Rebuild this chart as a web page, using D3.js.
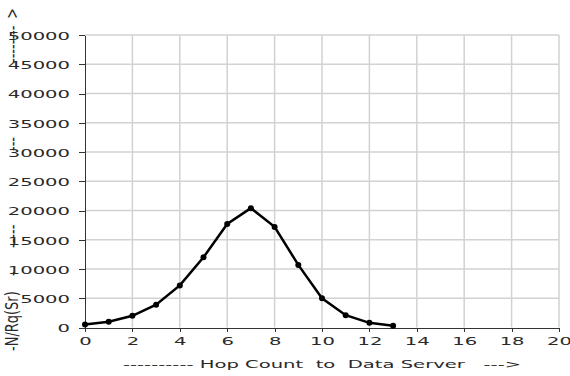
<!DOCTYPE html>
<html>
<head>
    <meta charset="UTF-8">
    <title>hop count</title>
    <style type="text/css">
        body { margin: 0; background: #fff; }
        text { font-family: "DejaVu Sans", sans-serif; font-size: 11px; fill: #2a2a2a; }
        .grid line { stroke: #d2d2d2; stroke-width: 1.5px; }
        .axis path, .axis line { stroke: #333; stroke-width: 1px; shape-rendering: crispEdges; }
        .line { fill: none; stroke: #000; stroke-width: 2.5px; }
        .dot { fill: #000; }
    </style>
</head>
<body>
<script src="https://cdn.jsdelivr.net/npm/d3@7"></script>
<script type="text/javascript">
    // data
    var hops = [0, 1, 2, 3, 4, 5, 6, 7, 8, 9, 10, 11, 12, 13];
    var counts = [500, 1000, 2000, 3900, 7200, 12000, 17700, 20400, 17200, 10700, 5000, 2100, 800, 300];
    var xTicks = [0, 2, 4, 6, 8, 10, 12, 14, 16, 18, 20];
    var yTicks = [0, 5000, 10000, 15000, 20000, 25000, 30000, 35000, 40000, 45000, 50000];
    var xTitle = "---------- Hop Count  to  Data Server   --->";
    var yTitleParts = [
        {at: 0, text: "-N/Rq(Sr)"},
        {at: 75, text: "-"},
        {at: 103, text: "-----"},
        {at: 200, text: "---"},
        {at: 288, text: "--------"},
        {at: 332, text: ">"}
    ];

    var width = 570,
        height = 376,
        stretch = 1.78,
        plotLeft = 85, plotRight = 559, plotTop = 35, plotBottom = 327.5;

    var x = d3.scaleLinear().domain([0, 20]).range([plotLeft, plotRight]),
        y = d3.scaleLinear().domain([0, 50000]).range([plotBottom, plotTop]);

    var data = hops.map(function(h, i){ return {x: h, y: counts[i]}; });

    var svg = d3.select("body").append("svg")
        .attr("width", width)
        .attr("height", height);

    // grid
    var grid = svg.append("g").attr("class", "grid");
    grid.selectAll("line.v").data(xTicks.slice(1))
        .enter().append("line").attr("class", "v")
        .attr("x1", function(d){ return x(d); }).attr("x2", function(d){ return x(d); })
        .attr("y1", plotTop).attr("y2", plotBottom);
    grid.selectAll("line.h").data(yTicks.slice(1))
        .enter().append("line").attr("class", "h")
        .attr("x1", plotLeft).attr("x2", plotRight)
        .attr("y1", function(d){ return y(d); }).attr("y2", function(d){ return y(d); });

    // axes
    var xAxis = d3.axisBottom(x).tickValues(xTicks).tickSize(4).tickSizeOuter(0).tickPadding(6);
    var yAxis = d3.axisLeft(y).tickValues(yTicks).tickSize(6).tickSizeOuter(0).tickFormat(d3.format("d"));

    var gx = svg.append("g").attr("class", "axis")
        .attr("transform", "translate(0," + plotBottom + ")")
        .call(xAxis);
    var gy = svg.append("g").attr("class", "axis")
        .attr("transform", "translate(" + plotLeft + ",0)")
        .call(yAxis);

    gx.selectAll("text").attr("transform", "scale(" + stretch + ",1)");
    gy.selectAll("text")
        .attr("x", -15 / stretch)
        .attr("dy", "0.4em")
        .attr("transform", "scale(" + stretch + ",1)");
    svg.selectAll(".axis text").attr("fill", "#2a2a2a").style("font-size", "11px")
        .style("font-family", "'DejaVu Sans', sans-serif");

    // line + dots
    var line = d3.line()
        .x(function(d){ return x(d.x); })
        .y(function(d){ return y(d.y); });

    svg.append("path").datum(data)
        .attr("class", "line")
        .attr("d", line);

    svg.append("g").selectAll("circle")
        .data(data)
      .enter().append("circle")
        .attr("class", "dot")
        .attr("cx", function(d){ return x(d.x); })
        .attr("cy", function(d){ return y(d.y); })
        .attr("r", 3);

    // titles
    svg.append("text")
        .attr("transform", "translate(322,368) scale(" + stretch + ",1)")
        .attr("text-anchor", "middle")
        .style("white-space", "pre")
        .text(xTitle);

    svg.append("text")
        .attr("transform", "translate(18,351) scale(1.3,1) rotate(-90)")
        .style("font-size", "13px")
        .selectAll("tspan")
        .data(yTitleParts)
      .enter().append("tspan")
        .attr("x", function(d){ return d.at; })
        .attr("y", 0)
        .text(function(d){ return d.text; });
</script>
</body>
</html>
